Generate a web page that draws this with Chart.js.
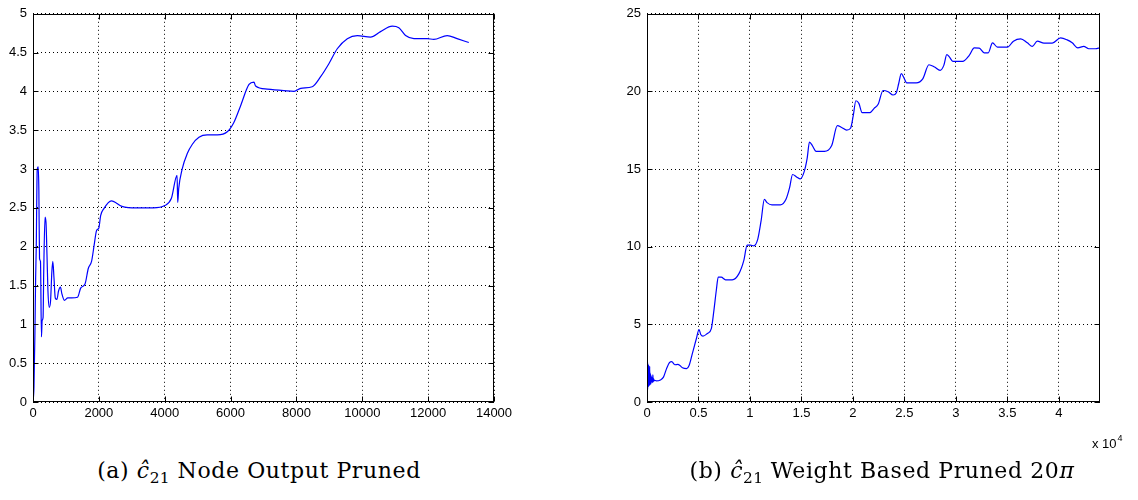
<!DOCTYPE html>
<html>
<head>
<meta charset="utf-8">
<script src="https://cdn.jsdelivr.net/npm/chart.js@4.4.1/dist/chart.umd.min.js"></script>
<style>
  html, body { margin: 0; padding: 0; background: #fff; }
  body { width: 1138px; height: 500px; position: relative; overflow: hidden; }
  .plot { position: absolute; top: 0; }
  .caption {
    position: absolute; top: 460px; height: 22px; line-height: 22px;
    font-family: "DejaVu Serif", "Liberation Serif", serif; font-size: 22px;
    letter-spacing: 0.6px; color: #000; text-align: center; white-space: nowrap;
  }
  .caption sub { font-size: 0.7em; vertical-align: -0.3em; line-height: 0; letter-spacing: 0.3px; }
</style>
</head>
<body>
<div class="plot" style="left:0;width:540px;height:430px;"><canvas id="nodeChart"></canvas></div>
<div class="plot" style="left:590px;width:548px;height:460px;"><canvas id="weightChart"></canvas></div>
<div class="caption" style="left:0;width:518px;">(a) <i>ĉ</i><sub>21</sub> Node Output Pruned</div>
<div class="caption" style="left:626px;width:512px;">(b) <i>ĉ</i><sub>21</sub> Weight Based Pruned 20<i>π</i></div>

<script>
// (a) node-output pruned estimate of c21 over iterations
const nodeIter = [0, 30, 58, 80, 98, 128, 158, 178, 198, 227, 257, 277, 306, 326, 365, 395, 425, 454, 494, 533,
  573, 602, 637, 676, 726, 775, 835, 874, 953, 1057, 1175, 1353, 1452, 1580, 1679, 1778, 1857, 1931, 2000, 2054,
  2153, 2380, 2700, 3150, 3650, 4000, 4200, 4375, 4395, 4425, 4530, 4685, 4840, 5040, 5290, 5600, 5900, 6100,
  6300, 6560, 6710, 6760, 7115, 7620, 7930, 8130, 8480, 8735, 8990, 9240, 9545, 9850, 10250, 10555, 10910,
  11110, 11315, 11570, 11970, 12170, 12580, 12880, 13235];
const nodeC21 = [0, 0.2, 0.88, 1.6, 1.97, 2.99, 3.03, 2.73, 1.85, 1.81, 0.84, 1.05, 1.09, 1.68, 2.38, 2.31, 1.89,
  1.43, 1.22, 1.3, 1.68, 1.81, 1.6, 1.34, 1.32, 1.43, 1.48, 1.4, 1.31, 1.34, 1.34, 1.35, 1.47, 1.52, 1.72, 1.81,
  2.02, 2.21, 2.24, 2.4, 2.49, 2.59, 2.52, 2.5, 2.5, 2.53, 2.62, 2.92, 2.57, 2.75, 3.0, 3.2, 3.32, 3.41, 3.44,
  3.44, 3.48, 3.6, 3.81, 4.09, 4.12, 4.07, 4.03, 4.01, 4.0, 4.04, 4.06, 4.19, 4.36, 4.55, 4.68, 4.72, 4.7, 4.77,
  4.84, 4.82, 4.72, 4.68, 4.68, 4.67, 4.72, 4.68, 4.63];

// (b) weight-based pruned (20π) estimate of c21 over iterations
const weightIter = [0, 12, 24, 36, 48, 60, 72, 84, 96, 108, 120, 132, 144, 156, 168, 180, 195, 210, 225, 240,
  260, 280, 300, 320, 345, 370, 395, 420, 450, 480, 510, 540, 570, 600, 640, 680, 720,
  900, 1300, 1600, 1900, 2200, 2400, 2700, 3000, 3200, 3450, 3850,
  4090, 4410, 4800, 5055, 5220, 5440, 5860, 6250, 6500, 6730, 6920, 7210, 7630, 8280, 8920, 9400, 9730, 10050,
  10370, 10760, 11080, 11400, 11660, 12140, 12950, 13500, 13850, 14140, 14560, 14880, 15260, 15560, 15780,
  16070, 16430, 17230, 17940, 18490, 18910, 19390, 19770, 20030, 20290, 20580, 20900, 21640, 22060, 22450,
  22930, 23420, 23900, 24220, 24450, 24700, 24960, 25220, 26150, 26800, 27380, 27930, 28470, 28830, 29120,
  29370, 29700, 30660, 31300, 31790, 32270, 32750, 33140, 33560, 34040, 35010, 35590, 36300, 36940, 37430,
  37910, 38560, 39360, 40170, 40810, 41300, 41840, 42420, 42910, 43550, 44000];
const weightC21 = [3.05, 0.9, 2.9, 1.0, 2.6, 0.8, 2.5, 1.1, 2.4, 0.95, 2.3, 1.1, 2.4, 1.0, 2.2, 1.2, 2.1, 1.05,
  2.0, 1.2, 2.3, 1.1, 1.9, 1.2, 1.8, 1.15, 1.7, 1.25, 1.6, 1.3, 1.55, 1.25, 1.75, 1.3, 1.5, 1.35, 1.4,
  1.36, 1.42, 1.6, 2.15, 2.55, 2.6, 2.4, 2.42, 2.35, 2.2,
  2.15, 2.35, 3.13, 4.09, 4.67, 4.35, 4.24, 4.41, 4.73, 5.9, 7.18, 8.04, 8.04, 7.87, 7.87, 8.25, 9.1, 10.1, 10.1,
  10.06, 10.49, 11.66, 13.05, 12.84, 12.69, 12.69, 13.05, 13.8, 14.65, 14.48, 14.37, 14.82, 15.71, 16.74, 16.5,
  16.14, 16.14, 16.52, 17.8, 17.68, 17.51, 17.63, 18.42, 19.4, 19.23, 18.63, 18.63, 18.91, 19.17, 20.06, 19.98,
  19.77, 19.92, 20.51, 21.15, 20.87, 20.55, 20.55, 20.83, 21.72, 21.57, 21.36, 21.68, 22.37, 22.22, 21.94,
  21.94, 22.33, 22.81, 22.79, 22.49, 22.49, 23.13, 22.85, 22.85, 23.24, 23.39, 23.13, 22.9, 23.24, 23.11,
  23.11, 23.45, 23.32, 23.13, 22.81, 22.9, 22.75, 22.75, 22.81];

// tick positions and their labels
const nodeXTicks = [0, 2000, 4000, 6000, 8000, 10000, 12000, 14000];
const nodeXLabels = ['0', '2000', '4000', '6000', '8000', '10000', '12000', '14000'];
const nodeYTicks = [0, 0.5, 1, 1.5, 2, 2.5, 3, 3.5, 4, 4.5, 5];
const nodeYLabels = ['0', '0.5', '1', '1.5', '2', '2.5', '3', '3.5', '4', '4.5', '5'];
const weightXTicks = [0, 5000, 10000, 15000, 20000, 25000, 30000, 35000, 40000];
const weightXLabels = ['0', '0.5', '1', '1.5', '2', '2.5', '3', '3.5', '4'];
const weightYTicks = [0, 5, 10, 15, 20, 25];
const weightYLabels = ['0', '5', '10', '15', '20', '25'];

const tickFont = { family: '"Liberation Sans", Arial, sans-serif', size: 13 };

// solid axes box with short inward tick marks on all four sides, plus an optional exponent note
const axesBox = {
  id: 'axesBox',
  afterDatasetsDraw(chart, args, opts) {
    const { ctx, chartArea: a, scales: { x, y } } = chart;
    const L = Math.round(a.left) + 0.5, R = Math.round(a.right) - 0.5;
    const T = Math.round(a.top) + 0.5, B = Math.round(a.bottom) - 0.5;
    ctx.save();
    ctx.strokeStyle = '#000';
    ctx.lineWidth = 1;
    ctx.setLineDash([]);
    ctx.strokeRect(L, T, R - L, B - T);
    const len = 5;
    ctx.beginPath();
    x.ticks.forEach(t => {
      const p = Math.round(x.getPixelForValue(t.value)) + 0.5;
      ctx.moveTo(p, B); ctx.lineTo(p, B - len);
      ctx.moveTo(p, T); ctx.lineTo(p, T + len);
    });
    y.ticks.forEach(t => {
      const p = Math.round(y.getPixelForValue(t.value)) + 0.5;
      ctx.moveTo(L, p); ctx.lineTo(L + len, p);
      ctx.moveTo(R, p); ctx.lineTo(R - len, p);
    });
    ctx.stroke();
    if (opts.exponent) {
      ctx.fillStyle = '#000';
      ctx.textBaseline = 'alphabetic';
      ctx.textAlign = 'left';
      ctx.font = '13px "Liberation Sans", Arial, sans-serif';
      const base = 'x 10';
      const bx = a.right - 8;
      ctx.fillText(base, bx, 448);
      const w = ctx.measureText(base).width;
      ctx.font = '9px "Liberation Sans", Arial, sans-serif';
      ctx.fillText(opts.exponent, bx + w + 1, 441);
    }
    ctx.restore();
  }
};

function axisOpts(min, max, tickVals, tickLabels, fitKey, fitSize, pad) {
  return {
    type: 'linear',
    min: min,
    max: max,
    afterBuildTicks: s => { s.ticks = tickVals.map(v => ({ value: v })); },
    afterFit: s => { s[fitKey] = fitSize; },
    ticks: {
      font: tickFont,
      color: '#000',
      padding: pad,
      autoSkip: false,
      maxRotation: 0,
      includeBounds: false,
      callback: (v, i) => tickLabels[i]
    },
    grid: { color: '#000', lineWidth: 1, drawTicks: false },
    border: { display: false, dash: [1, 3] }
  };
}

function makeChart(id, xs, ys, cfg) {
  new Chart(document.getElementById(id), {
    type: 'line',
    data: {
      datasets: [{
        data: xs.map((v, i) => ({ x: v, y: ys[i] })),
        borderColor: '#0000ff',
        borderWidth: 1.2,
        pointRadius: 0,
        fill: false,
        cubicInterpolationMode: 'monotone'
      }]
    },
    options: {
      responsive: true,
      maintainAspectRatio: false,
      devicePixelRatio: 1,
      animation: false,
      events: [],
      layout: { padding: cfg.padding },
      scales: {
        x: axisOpts(cfg.xMin, cfg.xMax, cfg.xTicks, cfg.xLabels, 'height', cfg.xHeight, 4),
        y: axisOpts(cfg.yMin, cfg.yMax, cfg.yTicks, cfg.yLabels, 'width', cfg.yWidth, 6)
      },
      plugins: {
        legend: { display: false },
        tooltip: { enabled: false },
        axesBox: { exponent: cfg.exponent || '' }
      }
    },
    plugins: [axesBox]
  });
}

makeChart('nodeChart', nodeIter, nodeC21, {
  xMin: 0, xMax: 14000, xTicks: nodeXTicks, xLabels: nodeXLabels,
  yMin: 0, yMax: 5, yTicks: nodeYTicks, yLabels: nodeYLabels,
  padding: { left: 0, top: 10, right: 46, bottom: 0 },
  yWidth: 33, xHeight: 28
});

makeChart('weightChart', weightIter, weightC21, {
  xMin: 0, xMax: 44000, xTicks: weightXTicks, xLabels: weightXLabels,
  yMin: 0, yMax: 25, yTicks: weightYTicks, yLabels: weightYLabels,
  padding: { left: 0, top: 10, right: 38, bottom: 0 },
  yWidth: 57, xHeight: 58, exponent: '4'
});
</script>
</body>
</html>
